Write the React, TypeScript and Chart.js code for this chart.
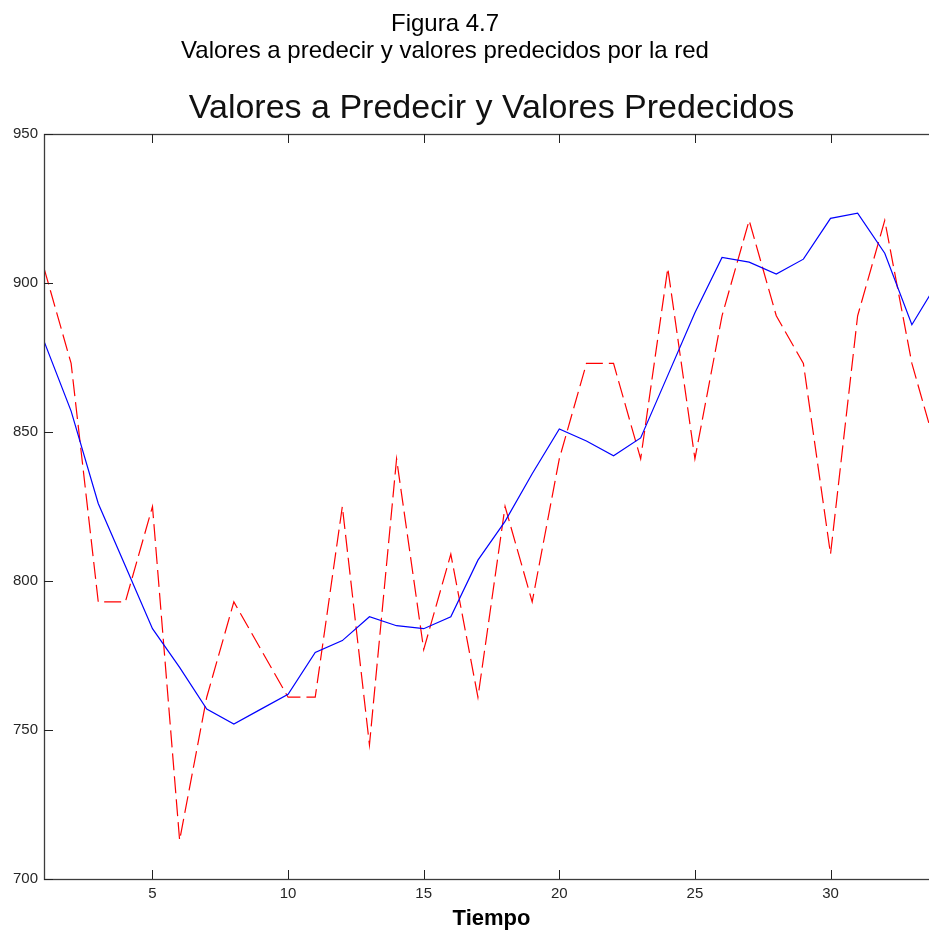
import React, { useEffect, useRef } from "react";
import { Chart, registerables } from "chart.js";

Chart.register(...registerables);

const captionLine1 = "Figura 4.7";
const captionLine2 = "Valores a predecir y valores predecidos por la red";
const chartTitle = "Valores a Predecir y Valores Predecidos";
const xAxisTitle = "Tiempo";

const timeSteps = [
  1, 2, 3, 4, 5, 6, 7, 8, 9, 10, 11, 12, 13, 14, 15, 16, 17, 18, 19, 20, 21, 22, 23, 24, 25, 26, 27, 28,
  29, 30, 31, 32, 33, 34,
];
const targetValues = [
  905, 873, 793, 793, 825, 713, 761, 793, 777, 761, 761, 825, 745, 841, 777, 809, 761, 825, 793, 841,
  873, 873, 841, 905, 841, 889, 921, 889, 873, 809, 889, 921, 873, 841,
];
const predictedValues = [
  880.5, 857, 826, 805, 784, 771, 757, 752, 757, 762, 776, 780, 788, 785, 784, 788, 807, 820, 836, 851,
  847, 842, 848, 869, 890, 908.6, 907, 903, 908, 921.7, 923.4, 910, 886, 901,
];
const xTickValues = [5, 10, 15, 20, 25, 30];
const yTickValues = [700, 750, 800, 850, 900, 950];

const FONT = '"Liberation Sans", Arial, Helvetica, sans-serif';

const framePlugin = {
  id: "matlabFrame",
  afterDatasetsDraw(chart: any) {
    const { ctx, chartArea, scales } = chart;
    const { left, right, top, bottom } = chartArea;
    const xs = scales.x;
    const ys = scales.y;
    ctx.save();
    ctx.strokeStyle = "#3c3c3c";
    ctx.lineWidth = 1.3;
    ctx.strokeRect(left + 0.5, top + 0.5, right - left, bottom - top);
    ctx.lineWidth = 1;
    ctx.strokeStyle = "#222";
    const tl = 9;
    ctx.beginPath();
    xTickValues.forEach((v) => {
      const px = Math.round(xs.getPixelForValue(v)) + 0.5;
      ctx.moveTo(px, bottom);
      ctx.lineTo(px, bottom - tl);
      ctx.moveTo(px, top);
      ctx.lineTo(px, top + tl);
    });
    yTickValues.forEach((v) => {
      const py = Math.round(ys.getPixelForValue(v)) + 0.5;
      ctx.moveTo(left, py);
      ctx.lineTo(left + tl, py);
      ctx.moveTo(right, py);
      ctx.lineTo(right - tl, py);
    });
    ctx.stroke();
    ctx.restore();
  },
};

const textPlugin = {
  id: "figureTexts",
  afterDraw(chart: any) {
    const { ctx, chartArea } = chart;
    ctx.save();
    ctx.textAlign = "center";
    ctx.textBaseline = "alphabetic";
    ctx.fillStyle = "#000";
    ctx.font = `24px ${FONT}`;
    ctx.fillText(captionLine1, 445, 31);
    ctx.fillText(captionLine2, 445, 58);
    ctx.fillStyle = "#111";
    ctx.font = `34px ${FONT}`;
    ctx.fillText(chartTitle, (chartArea.left + chartArea.right) / 2, 118);
    ctx.restore();
  },
};

export default function App() {
  const canvasRef = useRef<HTMLCanvasElement | null>(null);

  useEffect(() => {
    const canvas = canvasRef.current;
    if (!canvas) return;
    const chart = new Chart(canvas, {
      type: "line",
      data: {
        datasets: [
          {
            label: "Valores predecidos",
            data: timeSteps.map((t, i) => ({ x: t, y: predictedValues[i] })),
            borderColor: "#0000ff",
            borderWidth: 1.2,
            pointRadius: 0,
            tension: 0,
            fill: false,
          },
          {
            label: "Valores a predecir",
            data: timeSteps.map((t, i) => ({ x: t, y: targetValues[i] })),
            borderColor: "#ff0000",
            borderWidth: 1.2,
            borderDash: [17, 6],
            pointRadius: 0,
            tension: 0,
            fill: false,
          },
        ],
      },
      options: {
        animation: false,
        responsive: false,
        devicePixelRatio: 1,
        layout: { padding: { top: 134, left: 0, right: 21, bottom: 0 } },
        plugins: {
          legend: { display: false },
          tooltip: { enabled: false },
          title: { display: false },
        },
        scales: {
          x: {
            type: "linear",
            position: "bottom",
            min: 1,
            max: 34,
            grid: { display: false, drawTicks: false },
            border: { display: false },
            afterBuildTicks: (s: any) => {
              s.ticks = xTickValues.map((v) => ({ value: v }));
            },
            afterFit: (s: any) => {
              s.height = 53;
            },
            ticks: {
              autoSkip: false,
              maxRotation: 0,
              padding: 6,
              color: "#262626",
              font: { family: FONT, size: 15 },
              callback: (v: any) => String(v),
            },
            title: {
              display: true,
              text: xAxisTitle,
              color: "#000",
              font: { family: FONT, size: 22, weight: "bold" },
              padding: { top: 0, bottom: 0 },
            },
          },
          y: {
            type: "linear",
            position: "left",
            min: 700,
            max: 950,
            grid: { display: false, drawTicks: false },
            border: { display: false },
            afterBuildTicks: (s: any) => {
              s.ticks = yTickValues.map((v) => ({ value: v }));
            },
            afterFit: (s: any) => {
              s.width = 44;
            },
            ticks: {
              autoSkip: false,
              padding: 6,
              color: "#262626",
              font: { family: FONT, size: 15 },
              callback: (v: any) => String(v),
            },
          },
        },
      },
      plugins: [framePlugin, textPlugin],
    });
    return () => chart.destroy();
  }, []);

  return (
    <div
      style={{
        position: "absolute",
        left: 0,
        top: 0,
        width: 929,
        height: 932,
        overflow: "hidden",
        background: "#fff",
      }}
    >
      <canvas ref={canvasRef} width={960} height={932} style={{ display: "block", width: 960, height: 932 }} />
    </div>
  );
}
